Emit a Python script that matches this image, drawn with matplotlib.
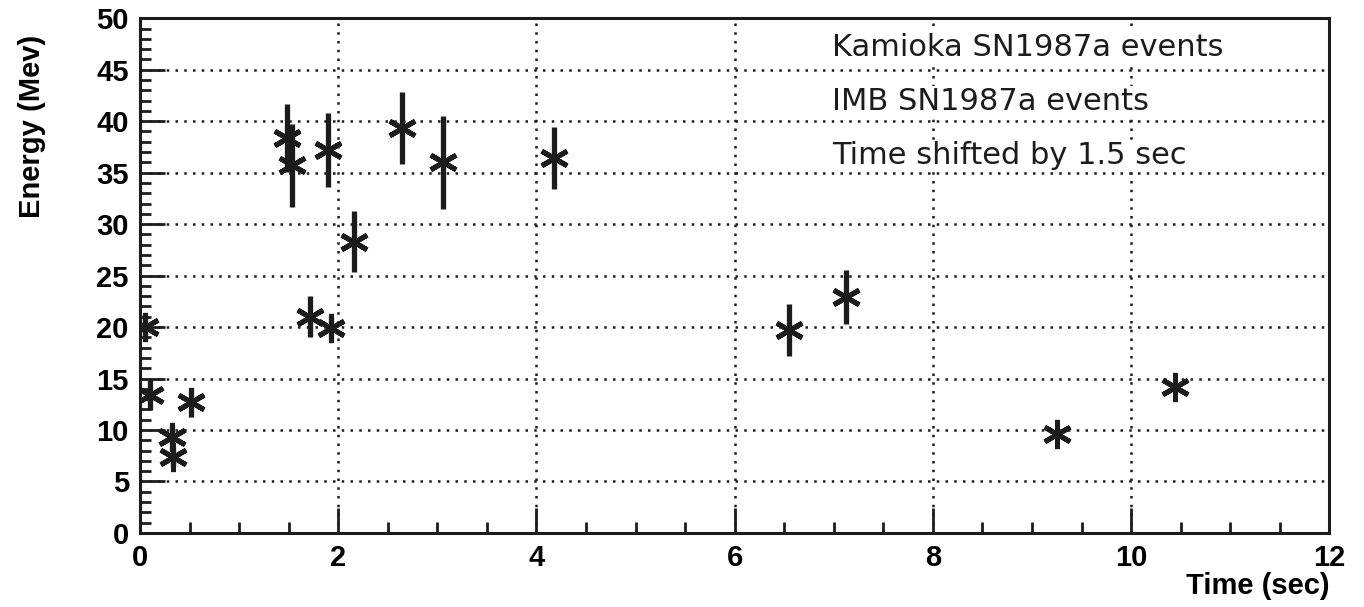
import matplotlib
matplotlib.use("Agg")
import matplotlib.pyplot as plt
from matplotlib.ticker import MultipleLocator

# Kamioka events (time in sec, energy in MeV, error)
kam_t = [0.05, 0.10, 0.32, 0.33, 0.52, 1.53, 1.72, 1.93, 9.25, 10.44]
kam_e = [20.0, 13.4, 9.3, 7.4, 12.7, 35.7, 21.0, 19.9, 9.6, 14.2]
kam_err = [1.3, 1.5, 1.2, 1.0, 1.4, 4.0, 2.0, 1.2, 0.0, 0.0]

# IMB events, shifted by 1.5 sec
imb_t = [1.48, 1.90, 2.16, 2.64, 3.06, 4.18, 6.55, 7.12]
imb_e = [38.4, 37.2, 28.3, 39.3, 36.0, 36.4, 19.7, 22.9]
imb_err = [3.3, 3.6, 3.0, 3.5, 4.5, 3.0, 2.5, 2.6]

legend_lines = ["Kamioka SN1987a events", "IMB SN1987a events", "Time shifted by 1.5 sec"]

ink = "#1c1c1c"
star = (6, 2, 0)

fig = plt.figure(figsize=(13.64, 6.07), dpi=100)
ax = fig.add_axes([0.1026, 0.122, 0.872, 0.848])

for t, e, err in [(kam_t, kam_e, kam_err), (imb_t, imb_e, imb_err)]:
    ax.errorbar(t, e, yerr=err, fmt="none", ecolor=ink, elinewidth=3.8, capsize=0)
    ax.plot(t, e, linestyle="none", marker=star, markersize=21,
            markeredgewidth=3.6, color=ink)

ax.set_xlim(0, 12)
ax.set_ylim(0, 50)
ax.xaxis.set_major_locator(MultipleLocator(2))
ax.xaxis.set_minor_locator(MultipleLocator(0.5))
ax.yaxis.set_major_locator(MultipleLocator(5))
ax.yaxis.set_minor_locator(MultipleLocator(1))

ax.grid(True, which="major", color=ink, linestyle=(0, (1, 2.5)), linewidth=1.8)
ax.tick_params(which="major", direction="in", length=18, width=2, color=ink,
               labelsize=21, pad=8, top=False, right=False)
ax.tick_params(which="minor", direction="in", length=8, width=2, color=ink,
               top=False, right=False)
for lab in ax.get_xticklabels() + ax.get_yticklabels():
    lab.set_fontweight("bold")
    lab.set_family("Liberation Sans")
for sp in ax.spines.values():
    sp.set_linewidth(2.2)
    sp.set_color(ink)

ax.set_xlabel("Time (sec)", loc="right", fontsize=21, fontweight="bold",
              family="Liberation Sans", labelpad=0)
ax.set_ylabel("Energy (Mev)", fontsize=21, fontweight="bold",
              family="Liberation Sans")
ax.yaxis.set_label_coords(-0.079, 0.79)

for i, line in enumerate(legend_lines):
    ax.text(0.582, 0.944 - i * 0.105, line, transform=ax.transAxes,
            ha="left", va="center", fontsize=22, color=ink, family="DejaVu Sans",
            bbox=dict(facecolor="white", edgecolor="none", pad=0.5))

fig.savefig("out.png", dpi=100, facecolor="white")
